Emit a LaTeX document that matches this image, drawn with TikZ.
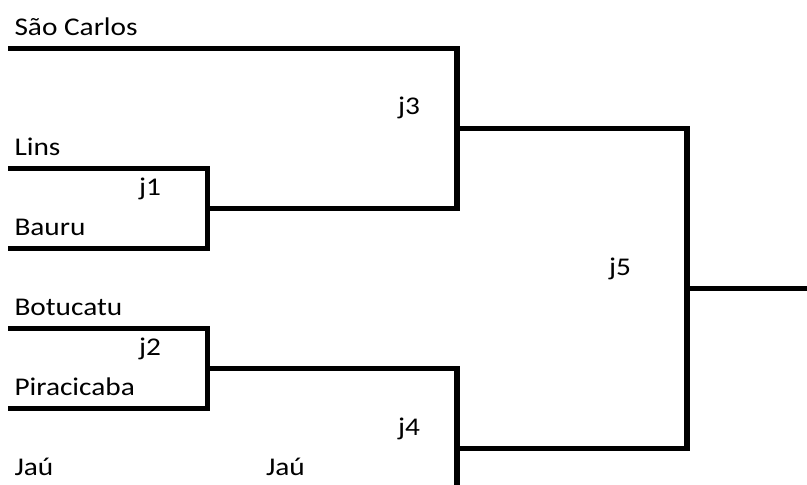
\documentclass[tikz,border=0pt]{standalone}
\usepackage{fontspec}
\setmainfont{Carlito}
\newcommand{\wide}[1]{\scalebox{1.15}[1]{#1}}
\begin{document}
\begin{tikzpicture}[x=1pt,y=-1pt,
  bline/.style={line width=5.5pt,line join=miter,line cap=butt},
  lbl/.style={anchor=base west,inner sep=0pt,outer sep=0pt,font=\fontsize{25.5}{30}\selectfont}]
\useasboundingbox (0,0) rectangle (807,485);
% coordinates
\coordinate (scL) at (8,48.5);
\coordinate (scR) at (457,48.5);
\coordinate (j1o) at (207.5,208.5);
\coordinate (j3i) at (457,208.5);
\coordinate (linsL) at (8,168.5);
\coordinate (linsR) at (207.5,168.5);
\coordinate (bauL) at (8,248.5);
\coordinate (bauR) at (207.5,248.5);
\coordinate (j3o) at (457,128.5);
\coordinate (j5a) at (687,128.5);
\coordinate (j5b) at (687,448.5);
\coordinate (j4o) at (457,448.5);
\coordinate (j5o) at (687,288.5);
\coordinate (fin) at (807,288.5);
\coordinate (botL) at (8,328.5);
\coordinate (botR) at (207.5,328.5);
\coordinate (piL) at (8,408.5);
\coordinate (piR) at (207.5,408.5);
\coordinate (j2o) at (207.5,368.5);
\coordinate (j4a) at (457,368.5);
\coordinate (j4b) at (457,490);
% connectors
\draw[bline] (scL) -- (scR) -- (j3i) -- (j1o);
\draw[bline] (linsL) -- (linsR) -- (bauR) -- (bauL);
\draw[bline] (j3o) -- (j5a) -- (j5b) -- (j4o);
\draw[bline] (j5o) -- (fin);
\draw[bline] (botL) -- (botR) -- (piR) -- (piL);
\draw[bline] (j2o) -- (j4a) -- (j4b);
% labels
\node[lbl] (tsc) at (14.5,35) {\wide{São Carlos}};
\node[lbl] (tlins) at (14.5,155) {\wide{Lins}};
\node[lbl] (tj1) at (139,195) {\wide{j1}};
\node[lbl] (tbau) at (14.5,235) {\wide{Bauru}};
\node[lbl] (tj3) at (398,114) {\wide{j3}};
\node[lbl] (tj5) at (609,275) {\wide{j5}};
\node[lbl] (tbot) at (14.5,315) {\wide{Botucatu}};
\node[lbl] (tj2) at (139,355) {\wide{j2}};
\node[lbl] (tpi) at (14.5,395) {\wide{Piracicaba}};
\node[lbl] (tj4) at (398,435) {\wide{j4}};
\node[lbl] (tjau1) at (14.5,475) {\wide{Jaú}};
\node[lbl] (tjau2) at (266,475) {\wide{Jaú}};
\end{tikzpicture}
\end{document}
